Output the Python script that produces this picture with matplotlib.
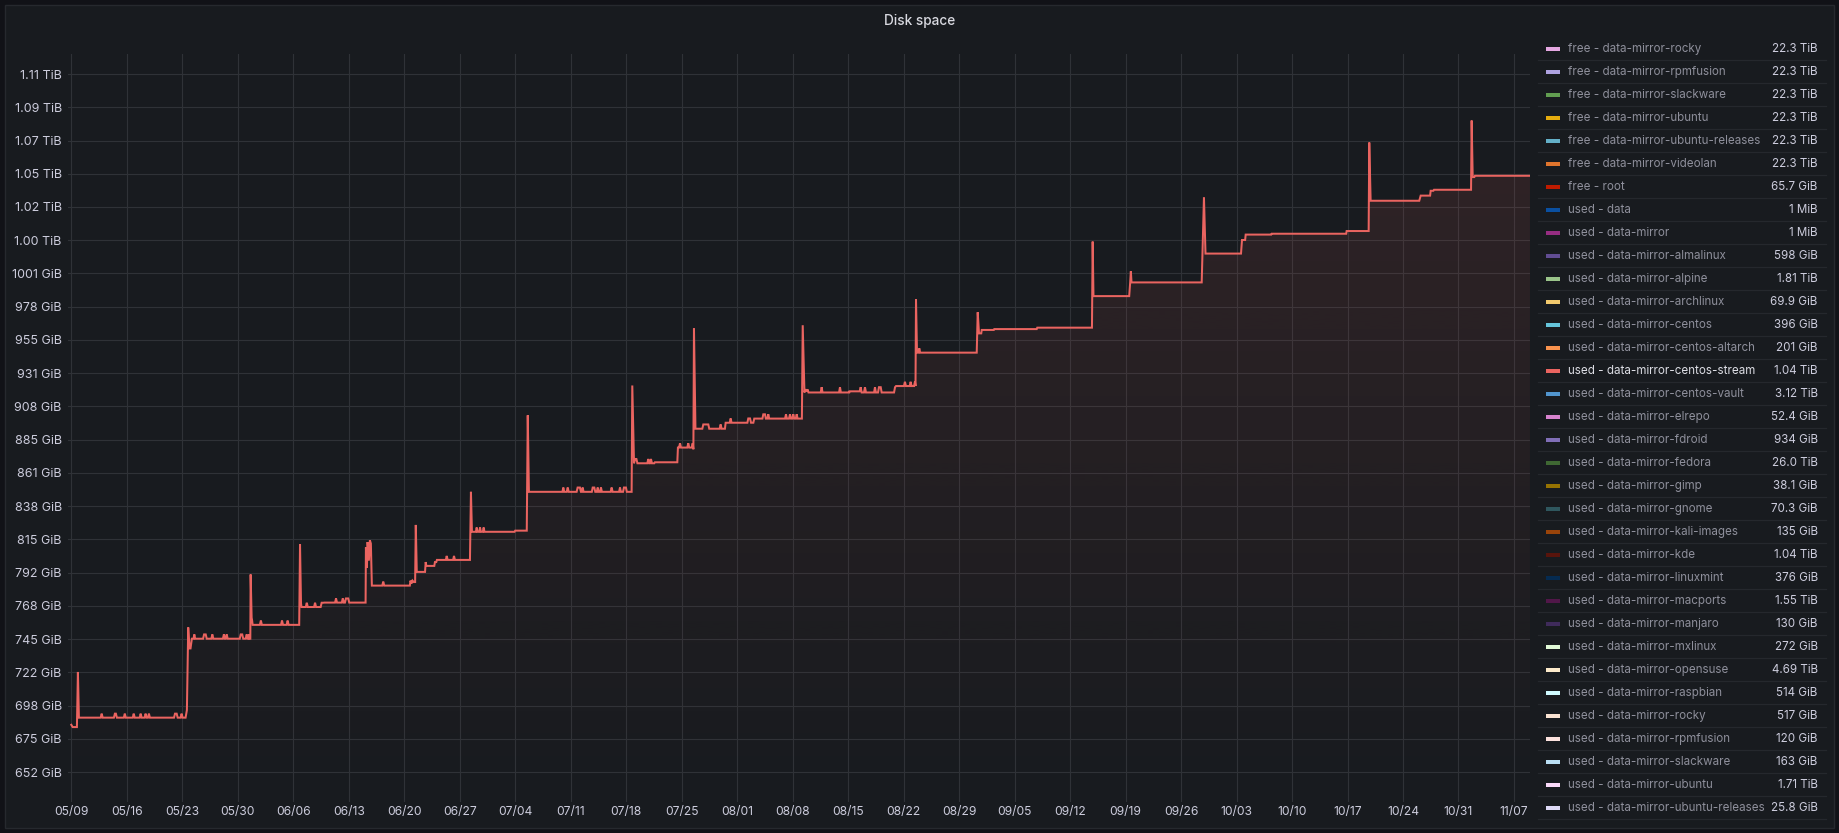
import numpy as np
import pandas as pd
import matplotlib
matplotlib.use("Agg")
import matplotlib.pyplot as plt
import matplotlib.dates as mdates
from matplotlib.patches import Rectangle, FancyBboxPatch
from matplotlib.path import Path

YEAR = 2023

# ---------------- data (GiB) : "used - data-mirror-centos-stream" ----------------
seg_may = [
    ("05-09 00:00", 685.0), ("05-09 04:00", 683.4), ("05-09 17:00", 683.4), ("05-09 20:00", 722.0),
    ("05-09 23:00", 690.0),
    ("05-12 17:00", 690.0), ("05-12 20:00", 692.8), ("05-12 23:00", 690.0),
    ("05-14 09:00", 690.0), ("05-14 12:00", 692.8), ("05-14 15:00", 692.8), ("05-14 18:00", 690.0),
    ("05-15 15:00", 690.0), ("05-15 18:00", 692.8), ("05-15 21:00", 690.0),
    ("05-16 18:00", 690.0), ("05-16 21:00", 692.8), ("05-17 00:00", 690.0),
    ("05-17 15:00", 690.0), ("05-17 18:00", 692.8), ("05-17 21:00", 690.0),
    ("05-18 06:00", 690.0), ("05-18 09:00", 692.8), ("05-18 12:00", 690.0),
    ("05-18 16:00", 690.0), ("05-18 19:00", 692.8), ("05-18 22:00", 690.0),
    ("05-21 23:00", 690.0), ("05-22 02:00", 692.8), ("05-22 07:00", 692.8), ("05-22 10:00", 690.0),
    ("05-22 19:00", 690.0), ("05-22 22:00", 692.8), ("05-23 01:00", 690.0),
    ("05-23 10:00", 690.0), ("05-23 14:00", 695.3), ("05-23 18:00", 753.2), ("05-23 22:00", 738.5),
    ("05-24 01:00", 738.5), ("05-24 05:00", 745.3),
    ("05-24 10:00", 745.3), ("05-24 12:30", 748.3), ("05-24 15:00", 745.3),
    ("05-25 15:00", 745.3), ("05-25 18:00", 748.3), ("05-25 23:00", 748.3), ("05-26 02:00", 745.3),
    ("05-26 16:00", 745.3), ("05-26 19:00", 748.3), ("05-26 22:00", 745.3),
    ("05-28 03:00", 745.3), ("05-28 06:00", 748.3), ("05-28 09:00", 745.3),
    ("05-28 11:30", 745.3), ("05-28 14:30", 748.3), ("05-28 17:30", 745.3),
    ("05-30 06:00", 745.3), ("05-30 09:00", 748.3), ("05-30 13:30", 748.3), ("05-30 16:30", 745.3),
    ("05-31 00:00", 745.3), ("05-31 03:00", 748.3), ("05-31 06:00", 745.3),
    ("05-31 08:00", 745.3), ("05-31 10:00", 748.3), ("05-31 12:00", 745.3),
    ("05-31 14:00", 745.3), ("05-31 15:00", 790.3), ("05-31 18:00", 760.0), ("05-31 19:30", 758.0),
    ("05-31 21:00", 755.0),
]

seg_june = [
    ("06-01 19:00", 755.0), ("06-01 22:00", 758.0), ("06-02 01:00", 755.0),
    ("06-04 11:00", 755.0), ("06-04 14:00", 758.0), ("06-04 17:00", 755.0),
    ("06-05 04:00", 755.0), ("06-05 07:00", 758.0), ("06-05 10:00", 755.0),
    ("06-06 18:00", 755.0), ("06-06 20:30", 811.4), ("06-06 23:30", 770.0), ("06-07 01:00", 767.5),
    ("06-07 14:00", 767.5), ("06-07 17:00", 770.5), ("06-07 20:00", 767.5),
    ("06-08 15:00", 767.5), ("06-08 18:00", 770.5), ("06-08 21:00", 767.5),
    ("06-09 11:00", 767.5), ("06-09 14:00", 770.5), ("06-09 19:00", 770.5), ("06-09 22:00", 770.6),
    ("06-11 06:30", 770.6), ("06-11 09:30", 773.5), ("06-11 12:30", 770.6),
    ("06-12 03:00", 770.6), ("06-12 06:00", 773.5), ("06-12 09:00", 770.6),
    ("06-12 12:30", 770.6), ("06-12 15:30", 773.5), ("06-12 22:30", 773.5), ("06-13 01:30", 770.6),
    ("06-15 03:00", 770.6), ("06-15 04:00", 809.3), ("06-15 07:00", 795.0), ("06-15 09:00", 813.0),
    ("06-15 13:00", 800.0), ("06-15 16:00", 814.2), ("06-15 19:00", 812.0), ("06-15 22:00", 782.5),
    ("06-17 05:30", 782.5), ("06-17 08:30", 785.3), ("06-17 11:30", 782.5),
    ("06-20 17:00", 782.5), ("06-20 19:00", 786.0), ("06-20 22:00", 784.0), ("06-21 01:00", 786.0),
    ("06-21 05:00", 785.0), ("06-21 09:00", 785.0), ("06-21 11:00", 825.0), ("06-21 14:00", 792.1),
    ("06-22 15:00", 792.1), ("06-22 17:00", 799.0), ("06-22 19:00", 796.3),
    ("06-23 19:00", 796.3), ("06-23 21:00", 799.0), ("06-24 01:00", 799.0), ("06-24 03:00", 800.5),
    ("06-25 06:00", 800.5), ("06-25 08:40", 803.3), ("06-25 11:30", 800.5),
    ("06-26 04:00", 800.5), ("06-26 06:40", 803.3), ("06-26 09:30", 800.5),
    ("06-28 07:00", 800.5), ("06-28 10:00", 848.2), ("06-28 13:00", 820.2),
    ("06-29 01:00", 820.2), ("06-29 03:20", 823.2), ("06-29 06:00", 820.2),
    ("06-29 11:00", 820.2), ("06-29 13:30", 823.2), ("06-29 16:00", 820.2),
    ("06-29 22:00", 820.2), ("06-30 00:30", 823.2), ("06-30 03:00", 820.2),
]

seg_july = [
    ("07-03 22:00", 820.2), ("07-04 00:00", 821.0), ("07-05 11:00", 821.0),
    ("07-05 14:00", 901.8), ("07-05 17:30", 848.2),
    ("07-09 23:00", 848.2), ("07-10 01:40", 851.2), ("07-10 04:30", 848.2),
    ("07-10 12:00", 848.2), ("07-10 15:00", 851.2), ("07-10 18:00", 848.2),
    ("07-11 18:00", 848.2), ("07-11 21:00", 851.2), ("07-12 04:00", 851.2), ("07-12 07:00", 848.2),
    ("07-12 09:30", 848.2), ("07-12 12:15", 851.2), ("07-12 15:00", 848.2),
    ("07-13 16:00", 848.2), ("07-13 18:40", 851.2), ("07-13 23:30", 851.2), ("07-14 02:30", 848.2),
    ("07-14 07:00", 848.2), ("07-14 09:50", 851.2), ("07-14 12:30", 848.2),
    ("07-14 17:00", 848.2), ("07-14 19:40", 851.2), ("07-14 22:30", 848.2),
    ("07-16 01:00", 848.2), ("07-16 04:00", 851.2), ("07-16 07:00", 848.2),
    ("07-17 02:30", 848.2), ("07-17 05:15", 851.2), ("07-17 08:00", 848.2),
    ("07-17 14:30", 848.2), ("07-17 17:15", 851.2), ("07-17 23:15", 851.2), ("07-18 02:00", 848.2),
    ("07-18 16:30", 848.2), ("07-18 18:30", 922.7), ("07-18 23:45", 868.2),
    ("07-19 02:40", 871.2), ("07-19 07:00", 871.2), ("07-19 10:00", 868.2),
    ("07-20 16:00", 868.2), ("07-20 19:00", 871.2), ("07-20 22:00", 868.2),
    ("07-21 00:00", 868.2), ("07-21 03:00", 871.2), ("07-21 06:00", 868.2),
    ("07-21 13:00", 868.2), ("07-21 15:00", 868.9),
    ("07-24 10:50", 868.9), ("07-24 12:40", 879.2),
    ("07-24 16:00", 879.2), ("07-24 19:00", 882.2), ("07-24 22:00", 879.2),
    ("07-25 17:00", 879.2), ("07-25 20:00", 882.2), ("07-25 23:00", 879.2),
    ("07-26 06:30", 879.2), ("07-26 09:20", 882.2), ("07-26 11:30", 878.0),
    ("07-26 13:15", 962.6), ("07-26 17:45", 892.4),
    ("07-27 14:30", 892.4), ("07-27 17:30", 895.4), ("07-28 08:40", 895.4), ("07-28 11:30", 892.4),
    ("07-29 19:00", 892.4), ("07-29 22:00", 895.4), ("07-30 01:00", 892.4),
    ("07-30 11:00", 892.4), ("07-30 13:10", 896.6),
    ("07-31 01:30", 896.6), ("07-31 04:20", 899.6), ("07-31 07:00", 896.6),
]

seg_aug = [
    ("08-02 07:00", 896.6), ("08-02 09:40", 899.6), ("08-02 15:00", 899.6), ("08-02 18:00", 896.6),
    ("08-03 01:00", 896.6), ("08-03 03:50", 899.5),
    ("08-04 04:30", 899.5), ("08-04 07:10", 902.5), ("08-04 12:15", 902.5), ("08-04 15:00", 899.5),
    ("08-04 19:30", 899.5), ("08-04 22:20", 902.5), ("08-05 01:00", 899.5),
    ("08-07 01:00", 899.5), ("08-07 03:50", 902.5), ("08-07 06:30", 899.5),
    ("08-07 13:00", 899.5), ("08-07 16:00", 902.5), ("08-07 19:00", 899.5),
    ("08-07 23:00", 899.5), ("08-08 02:00", 902.5), ("08-08 05:00", 899.5),
    ("08-08 09:30", 899.5), ("08-08 12:15", 902.5), ("08-08 15:00", 899.5),
    ("08-09 04:00", 899.5), ("08-09 06:30", 964.9), ("08-09 11:45", 917.8),
    ("08-09 14:00", 920.0), ("08-09 18:00", 918.5), ("08-09 21:00", 920.0), ("08-10 00:00", 917.8),
    ("08-11 13:00", 917.8), ("08-11 15:50", 921.5), ("08-11 18:30", 917.8),
    ("08-13 20:30", 917.8), ("08-13 23:20", 921.5), ("08-14 02:00", 917.8),
    ("08-15 03:20", 917.8), ("08-15 04:00", 918.6),
    ("08-16 11:00", 918.6), ("08-16 14:00", 921.5), ("08-16 17:00", 917.8),
    ("08-17 00:00", 917.8), ("08-17 03:00", 921.5), ("08-17 06:00", 917.8),
    ("08-18 06:30", 917.8), ("08-18 09:20", 921.5), ("08-18 12:00", 917.8),
    ("08-18 18:30", 917.8), ("08-18 21:20", 921.5), ("08-19 02:40", 921.5), ("08-19 05:30", 917.8),
    ("08-20 19:00", 917.8), ("08-20 22:00", 921.5), ("08-21 01:00", 922.3),
    ("08-22 01:00", 922.3), ("08-22 04:00", 925.3), ("08-22 07:00", 922.3),
    ("08-22 18:30", 922.3), ("08-22 21:20", 925.3), ("08-23 00:00", 922.3),
    ("08-23 07:30", 922.3), ("08-23 10:20", 925.3), ("08-23 12:00", 922.3),
    ("08-23 13:30", 983.1), ("08-23 16:30", 945.7),
    ("08-23 21:00", 945.7), ("08-23 23:30", 948.7), ("08-24 02:00", 945.7),
    ("08-31 05:20", 945.7), ("08-31 08:20", 974.0), ("08-31 12:15", 959.2),
    ("08-31 19:00", 959.2), ("08-31 20:30", 961.6),
]

seg_autumn = [
    ("09-02 09:00", 961.6), ("09-02 10:30", 962.2),
    ("09-07 19:00", 962.2), ("09-07 20:40", 963.2),
    ("09-14 18:15", 963.2), ("09-14 20:25", 1023.5), ("09-14 22:50", 985.3),
    ("09-19 11:00", 985.3), ("09-19 14:00", 995.0), ("09-19 16:00", 1002.7), ("09-19 18:00", 994.9),
    ("09-28 14:30", 994.9), ("09-28 21:20", 1054.6), ("09-29 02:00", 1015.1),
    ("10-03 13:30", 1015.1), ("10-03 16:30", 1024.6), ("10-04 02:00", 1024.6), ("10-04 03:40", 1028.4),
    ("10-07 09:00", 1028.4), ("10-07 10:20", 1029.0),
    ("10-16 20:00", 1029.0), ("10-16 21:20", 1030.9),
    ("10-19 16:00", 1030.9), ("10-19 17:50", 1092.9), ("10-19 22:00", 1052.1),
    ("10-26 01:10", 1052.1), ("10-26 05:30", 1055.7),
    ("10-27 10:00", 1055.7), ("10-27 11:45", 1059.1), ("10-27 20:00", 1059.1), ("10-27 21:50", 1059.8),
    ("11-01 14:00", 1059.8), ("11-01 15:50", 1108.3), ("11-01 19:00", 1068.7),
    ("11-02 00:00", 1068.7), ("11-02 02:00", 1069.6),
    ("11-09 00:20", 1069.6),
]

# axis ticks
x_tick_dates = ["05-09", "05-16", "05-23", "05-30", "06-06", "06-13", "06-20", "06-27", "07-04",
                "07-11", "07-18", "07-25", "08-01", "08-08", "08-15", "08-22", "08-29", "09-05",
                "09-12", "09-19", "09-26", "10-03", "10-10", "10-17", "10-24", "10-31", "11-07"]
y_tick_gb = [700, 725, 750, 775, 800, 825, 850, 875, 900, 925, 950, 975, 1000, 1025, 1050,
             1075, 1100, 1125, 1150, 1175, 1200, 1225]
y_tick_labels = ["652 GiB", "675 GiB", "698 GiB", "722 GiB", "745 GiB", "768 GiB", "792 GiB",
                 "815 GiB", "838 GiB", "861 GiB", "885 GiB", "908 GiB", "931 GiB", "955 GiB",
                 "978 GiB", "1001 GiB", "1.00 TiB", "1.02 TiB", "1.05 TiB", "1.07 TiB",
                 "1.09 TiB", "1.11 TiB"]

# legend
legend_names = [
    "free - data-mirror-rocky", "free - data-mirror-rpmfusion", "free - data-mirror-slackware",
    "free - data-mirror-ubuntu", "free - data-mirror-ubuntu-releases", "free - data-mirror-videolan",
    "free - root", "used - data", "used - data-mirror", "used - data-mirror-almalinux",
    "used - data-mirror-alpine", "used - data-mirror-archlinux", "used - data-mirror-centos",
    "used - data-mirror-centos-altarch", "used - data-mirror-centos-stream",
    "used - data-mirror-centos-vault", "used - data-mirror-elrepo", "used - data-mirror-fdroid",
    "used - data-mirror-fedora", "used - data-mirror-gimp", "used - data-mirror-gnome",
    "used - data-mirror-kali-images", "used - data-mirror-kde", "used - data-mirror-linuxmint",
    "used - data-mirror-macports", "used - data-mirror-manjaro", "used - data-mirror-mxlinux",
    "used - data-mirror-opensuse", "used - data-mirror-raspbian", "used - data-mirror-rocky",
    "used - data-mirror-rpmfusion", "used - data-mirror-slackware", "used - data-mirror-ubuntu",
    "used - data-mirror-ubuntu-releases",
]
legend_values = [
    "22.3 TiB", "22.3 TiB", "22.3 TiB", "22.3 TiB", "22.3 TiB", "22.3 TiB", "65.7 GiB",
    "1 MiB", "1 MiB", "598 GiB", "1.81 TiB", "69.9 GiB", "396 GiB", "201 GiB", "1.04 TiB",
    "3.12 TiB", "52.4 GiB", "934 GiB", "26.0 TiB", "38.1 GiB", "70.3 GiB", "135 GiB", "1.04 TiB",
    "376 GiB", "1.55 TiB", "130 GiB", "272 GiB", "4.69 TiB", "514 GiB", "517 GiB", "120 GiB",
    "163 GiB", "1.71 TiB", "25.8 GiB",
]
legend_colors = [
    "#E5A8E2", "#AEA2E0", "#629E51", "#E5AC0E", "#64B0C8", "#E0752D", "#BF1B00",
    "#0A50A1", "#962D82", "#614D93", "#9AC48A", "#F2C96D", "#65C5DB", "#F9934E", "#EA6460",
    "#5195CE", "#D683CE", "#806EB7", "#3F6833", "#967302", "#2F575E", "#99440A", "#58140C",
    "#052B51", "#511749", "#3F2B5B", "#E0F9D7", "#FCEACA", "#CFFAFF", "#F9E2D2", "#FCE2DE",
    "#BADFF4", "#F9D9F9", "#DEDAF7",
]
shown_series = "used - data-mirror-centos-stream"

# ---------------- figure ----------------
W, H, DPI = 1839, 833, 100
plt.rcParams["font.family"] = ["Inter", "DejaVu Sans"]
fig = plt.figure(figsize=(W / DPI, H / DPI), dpi=DPI, facecolor="#111217")


def px_axes(l, t, r, b):
    return fig.add_axes([l / W, 1 - b / H, (r - l) / W, (b - t) / H])


panel = FancyBboxPatch((4.5 / W, 1 - 828 / H), (1834 - 4.5) / W, (828 - 5) / H,
                       boxstyle="square,pad=0", transform=fig.transFigure,
                       fc="#181b1f", ec="#26292e", lw=1.0, zorder=-10)
fig.patches.append(panel)

fig.text(919.5 / W, 1 - 20.5 / H, "Disk space", ha="center", va="center",
         fontsize=9.8, fontweight="medium", color="#d8d9e0")

TXT = "#ccccdc"
GRID = "#2f3237"
LINE = "#EA6460"

ax = px_axes(67.7, 54.3, 1530, 802.3)
ax.set_facecolor("none")
for s in ax.spines.values():
    s.set_visible(False)

pts = seg_may + seg_june + seg_july + seg_aug + seg_autumn
times = pd.to_datetime([f"{YEAR}-{t}" for t, _ in pts])
xs = mdates.date2num(times)
ys = np.array([v for _, v in pts])

GIB = 1e9 / 2 ** 30
ybot, ytop = 630.7, 1154.7
x0 = mdates.date2num(pd.Timestamp(f"{YEAR}-05-08 13:06"))
x1 = mdates.date2num(pd.Timestamp(f"{YEAR}-11-09 00:30"))

# gradient fill under the line
grad = np.zeros((256, 1, 4))
rgb = matplotlib.colors.to_rgb(LINE)
grad[..., 0], grad[..., 1], grad[..., 2] = rgb
grad[:, 0, 3] = np.linspace(0.0, 0.13, 256)
img = ax.imshow(grad, extent=[x0, x1, ybot, ytop], origin="lower", aspect="auto",
                interpolation="bilinear", zorder=1)
verts = np.vstack([[xs[0], ybot], np.column_stack([xs, ys]), [xs[-1], ybot], [xs[0], ybot]])
clip = Path(verts, closed=True)
img.set_clip_path(clip, transform=ax.transData)
ax.set_xlim(x0, x1)
ax.set_ylim(ybot, ytop)

ax.plot(xs, ys, color=LINE, lw=1.45, zorder=3, solid_joinstyle="miter")

xt = mdates.date2num(pd.to_datetime([f"{YEAR}-{d}" for d in x_tick_dates]))
ax.set_xticks(xt)
ax.set_xticklabels([d.replace("-", "/") for d in x_tick_dates])
ax.set_yticks([g * GIB for g in y_tick_gb])
ax.set_yticklabels(y_tick_labels)
ax.tick_params(axis="both", length=0, colors=TXT)
ax.tick_params(axis="y", pad=4.2, labelsize=9.0)
ax.tick_params(axis="x", pad=3.0, labelsize=8.7)
ax.grid(True, color=GRID, lw=0.8)
ax.set_axisbelow(True)

# ---------------- legend ----------------
LFS = 8.35
lax = px_axes(1535, 43, 1834, 826)
lax.set_xlim(1535, 1834)
lax.set_ylim(826, 43)
lax.axis("off")
for i, (name, val, col) in enumerate(zip(legend_names, legend_values, legend_colors)):
    yc = 48.65 + 23.0 * i
    lax.add_patch(Rectangle((1546, yc - 2.0), 14, 4.0, fc=col, ec="none", clip_on=True))
    ncol = "#dcdde4" if name == shown_series else "#8e8f9b"
    lax.text(1567.7, yc + 0.5, name, ha="left", va="center", fontsize=LFS, color=ncol, clip_on=True)
    lax.text(1817.7, yc + 0.5, val, ha="right", va="center", fontsize=LFS, color=TXT, clip_on=True)
    lax.plot([1537.7, 1826], [yc + 11.65, yc + 11.65], color="#25282d", lw=0.9, clip_on=True)

fig.savefig("out.png", dpi=DPI, facecolor=fig.get_facecolor())
